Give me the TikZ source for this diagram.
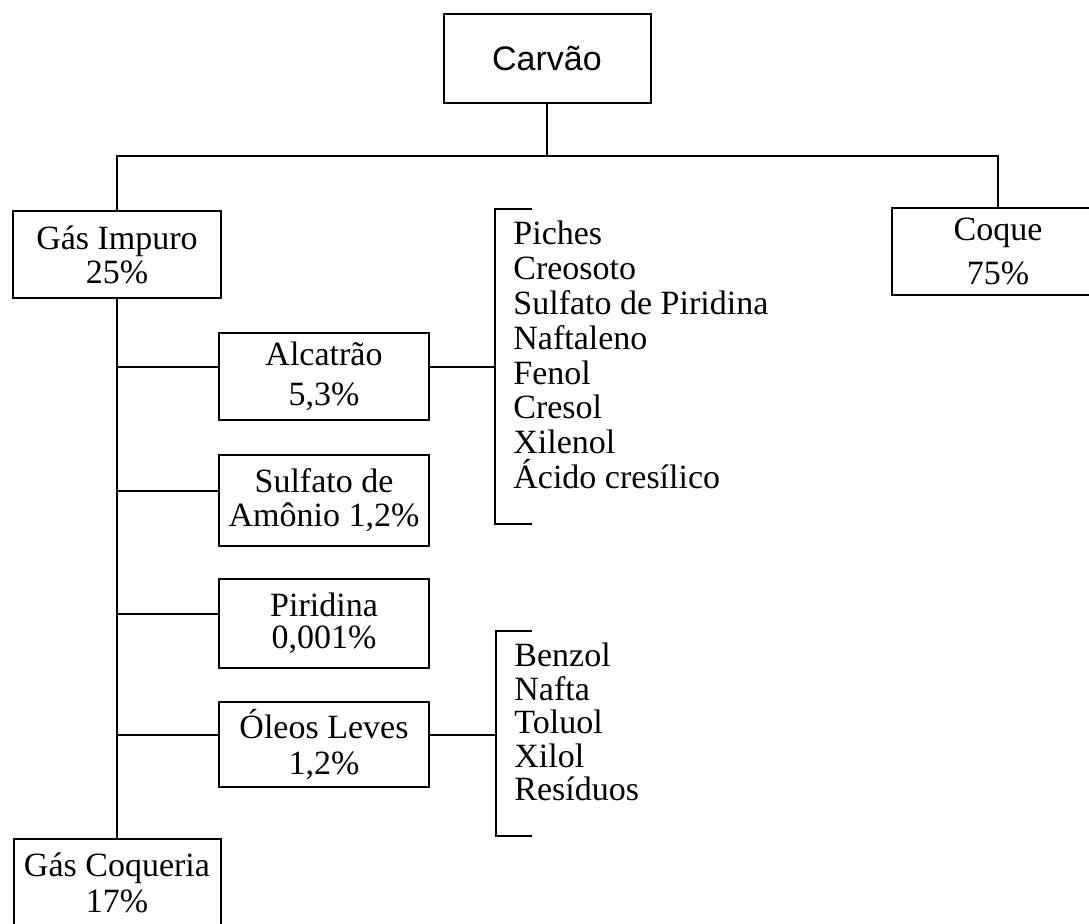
\documentclass[tikz,border=0pt]{standalone}
\usepackage{fontspec}
\setmainfont{Liberation Serif}
\newfontfamily\headfont{Liberation Sans}
\usetikzlibrary{positioning}

\begin{document}
\begin{tikzpicture}[x=0.5pt,y=-0.5pt,
 box/.style={draw,line width=1pt,inner sep=0pt,align=center,
 minimum width=105pt,minimum height=43.5pt,font=\fontsize{17}{17}\selectfont},
 list/.style={inner sep=0pt,align=left,anchor=north west,
 font=\fontsize{17}{17.4}\selectfont},
 link/.style={line width=1pt}]
 \clip (0,0) rectangle (1089,924);
 % boxes
 \node[box,minimum width=103.5pt,minimum height=44.5pt,
 font=\headfont\fontsize{17}{17}\selectfont] (carvao) at (547,58.5) {Carvão};
 \node[box,minimum width=104pt] (impuro) at (117,254.5) {Gás Impuro\\25\%};
 \node[box,minimum width=106pt] (coque) at (998,251.5) {Coque\\[5pt]75\%};
 \node[box] (alcatrao) at (324,376.5) {Alcatrão\\[3pt]5,3\%};
 \node[box,minimum height=45.5pt] (amonio) at (324,500.5) {Sulfato de\\Amônio 1,2\%};
 \node[box,minimum height=44.5pt] (piridina) at (324,623.5) {Piridina\\[-1pt]0,001\%};
 \node[box,minimum height=42.5pt] (oleos) at (324,744.5) {Óleos Leves\\[1pt]1,2\%};
 \node[box,minimum width=103.5pt] (coqueria) at (117,882.5) {Gás Coqueria\\[1pt]17\%};
 % product lists
 \node[list] (alcList) at (513,221) {Piches\\Creosoto\\Sulfato de Piridina\\Naftaleno\\Fenol\\Cresol\\Xilenol\\Ácido cresílico};
 \node[list,font=\fontsize{17}{16.75}\selectfont] (oleosList) at (514,643) {Benzol\\Nafta\\Toluol\\Xilol\\Resíduos};
 % tree
 \coordinate (bus) at (547,156);
 \draw[link] (carvao.south) -- (bus);
 \draw[link] (impuro.north) |- (bus) -| (coque.north);
 \draw[link] (impuro.south) -- (coqueria.north);
 \draw[link] (alcatrao.175) -- (alcatrao.175 -| impuro.south);
 \draw[link] (amonio.175) -- (amonio.175 -| impuro.south);
 \draw[link] (piridina.175) -- (piridina.175 -| impuro.south);
 \draw[link] (oleos.175) -- (oleos.175 -| impuro.south);
 % brackets
 \coordinate (alcSpine) at (495,209);
 \coordinate (alcTop) at (532,209); \coordinate (alcBot) at (532,524);
 \draw[link] (alcTop) -- (alcSpine) |- (alcBot);
 \draw[link] (alcatrao.5) -- (alcatrao.5 -| alcSpine);
 \coordinate (oleosSpine) at (496,631);
 \coordinate (oleosTop) at (532,631); \coordinate (oleosBot) at (532,836);
 \draw[link] (oleosTop) -- (oleosSpine) |- (oleosBot);
 \draw[link] (oleos.5) -- (oleos.5 -| oleosSpine);
\end{tikzpicture}
\end{document}
